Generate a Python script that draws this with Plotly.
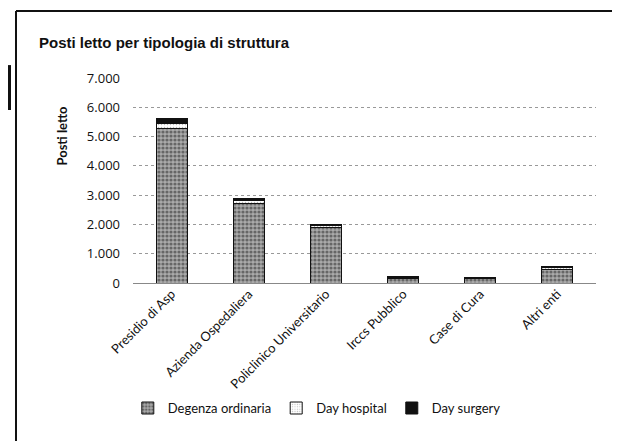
import plotly.graph_objects as go

categories = ["Presidio di Asp", "Azienda Ospedaliera", "Policlinico Universitario",
              "Irccs Pubblico", "Case di Cura", "Altri enti"]
tick_text = ["Presidio di Asp", "Azienda Ospedaliera", "Policlinico Universitario",
             "Irccs Pubblico", "Case di Cura", "Altri enti"]
degenza_ordinaria = [5280, 2700, 1880, 160, 140, 470]
day_hospital = [170, 110, 90, 40, 35, 70]
day_surgery = [170, 60, 40, 20, 15, 20]
y_ticks = [0, 1000, 2000, 3000, 4000, 5000, 6000, 7000]
y_tick_text = ["0", "1.000", "2.000", "3.000", "4.000", "5.000", "6.000", "7.000"]

fig = go.Figure()
fig.add_trace(go.Bar(
    name="Degenza ordinaria", x=categories, y=degenza_ordinaria,
    marker=dict(color="#8a8a8a", line=dict(color="#111111", width=1),
                pattern=dict(shape=".", fgcolor="#222222", bgcolor="#aaaaaa", size=4, solidity=0.5)),
))
fig.add_trace(go.Bar(
    name="Day hospital", x=categories, y=day_hospital,
    marker=dict(color="#ffffff", line=dict(color="#111111", width=1),
                pattern=dict(shape=".", fgcolor="#777777", bgcolor="#ffffff", size=3, solidity=0.2)),
))
fig.add_trace(go.Bar(
    name="Day surgery", x=categories, y=day_surgery,
    marker=dict(color="#111111", line=dict(color="#111111", width=1)),
))

# frame and fragments of the scanned page
shapes = [
    dict(type="line", xref="paper", yref="paper", x0=-0.2527, x1=-0.2527, y0=1.327, y1=-0.85,
         line=dict(color="#111111", width=2)),
    dict(type="line", xref="paper", yref="paper", x0=-0.2527, x1=1.1, y0=1.327, y1=1.327,
         line=dict(color="#111111", width=2)),
    dict(type="rect", xref="paper", yref="paper", x0=-0.27, x1=-0.2635, y0=1.063, y1=0.844,
         fillcolor="#111111", line=dict(width=0)),
]

fig.update_layout(
    width=620, height=441,
    barmode="stack", bargap=0.6,
    paper_bgcolor="white", plot_bgcolor="white",
    margin=dict(l=125, r=32, t=70, b=166),
    font=dict(family="Lato", size=12, color="#111111"),
    shapes=shapes,
    showlegend=True,
    legend=dict(orientation="h", x=0.397, xanchor="center", y=-0.61, yanchor="middle",
                font=dict(family="Lato", size=13, color="#111111"),
                itemwidth=30, traceorder="normal"),
    xaxis=dict(tickangle=-45, tickvals=categories, ticktext=tick_text,
               tickfont=dict(family="Lato", size=13, color="#111111"),
               showline=False, showgrid=False, ticks=""),
    yaxis=dict(range=[0, 7000], tickvals=y_ticks, ticktext=y_tick_text,
               tickfont=dict(family="Open Sans", size=13, color="#111111"),
               showgrid=True, gridcolor="#999999", griddash="dot", gridwidth=1,
               zeroline=True, zerolinecolor="#888888", zerolinewidth=1,
               showline=False, ticks="", ticklabelstandoff=12),
    annotations=[
        dict(text="<b>Posti letto per tipologia di struttura</b>", xref="paper", yref="paper",
             x=-0.207, y=1.175, xanchor="left", yanchor="middle", showarrow=False,
             font=dict(family="Liberation Sans", size=15, color="#111111")),
        dict(text="<b>Posti letto</b>", xref="paper", yref="paper", textangle=-90,
             x=-0.153, y=0.72, xanchor="center", yanchor="middle", showarrow=False,
             font=dict(family="Lato", size=13, color="#111111")),
    ],
)

fig.write_html("out.html")
